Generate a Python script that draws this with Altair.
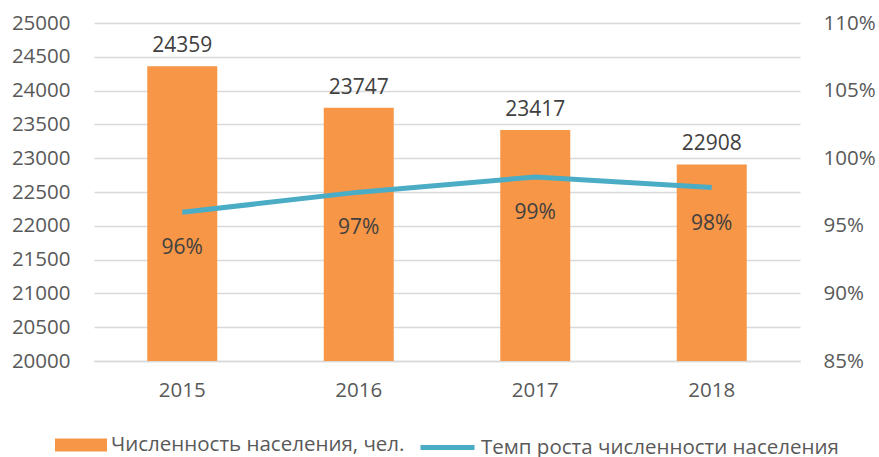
import altair as alt
import pandas as pd

years = ["2015", "2016", "2017", "2018"]
population = [24359, 23747, 23417, 22908]
growth = [0.960, 0.9749, 0.9861, 0.9783]
growth_labels = ["96%", "97%", "99%", "98%"]
series_bar = "Численность населения, чел."
series_line = "Темп роста численности населения"

left_ticks = list(range(20000, 25001, 500))
right_ticks = [0.85, 0.90, 0.95, 1.00, 1.05, 1.10]

df = pd.DataFrame({"year": years, "pop": population, "growth": growth, "glabel": growth_labels,
                   "s1": [series_bar] * 4, "s2": [series_line] * 4})

FONT = "Open Sans"
AXIS_COLOR = "#595959"
LABEL_COLOR = "#404040"
BAR_COLOR = "#F79646"
LINE_COLOR = "#4BACC6"
FS = 20.5
FS_DATA = 21

x = alt.X(
    "year:N", title=None,
    scale=alt.Scale(paddingInner=0, paddingOuter=0),
    axis=alt.Axis(labelAngle=0, labelFontSize=FS, labelFont=FONT, labelColor=AXIS_COLOR,
                  labelPadding=19, ticks=False, domain=True, domainColor="#d9d9d9", domainWidth=1.5, grid=False),
)

base = alt.Chart(df)

y_left = alt.Y(
    "pop:Q", title=None,
    scale=alt.Scale(domain=[20000, 25000], nice=False, zero=False),
    axis=alt.Axis(values=left_ticks, format="d", labelFontSize=FS, labelFont=FONT, labelColor=AXIS_COLOR,
                  labelPadding=24, labelOverlap=False, ticks=False, domain=False, grid=True,
                  gridColor="#d9d9d9", gridWidth=1.3),
)

bars = base.mark_bar(size=70, clip=True).encode(
    x=x,
    y=y_left,
    y2=alt.datum(20000),
    fill=alt.Fill(
        "s1:N",
        scale=alt.Scale(range=[BAR_COLOR]),
        legend=alt.Legend(
            title=None, orient="none", legendX=-39, legendY=396, padding=0,
            symbolType="M-1,-0.25L1,-0.25L1,0.25L-1,0.25Z", symbolSize=2704, symbolStrokeWidth=0,
            labelFontSize=FS, labelFont=FONT, labelColor=AXIS_COLOR, labelOffset=4, labelLimit=500,
        ),
    ),
)

bar_text = base.mark_text(baseline="alphabetic", dy=-14, fontSize=FS_DATA, font=FONT, color=LABEL_COLOR).encode(
    x=x, y=y_left, text=alt.Text("pop:Q", format="d")
)

y_right = alt.Y(
    "growth:Q", title=None,
    scale=alt.Scale(domain=[0.85, 1.10], nice=False, zero=False),
    axis=alt.Axis(orient="right", values=right_ticks, format=".0%", labelFontSize=FS, labelFont=FONT,
                  labelColor=AXIS_COLOR, labelPadding=23, labelAlign="left", labelOverlap=False,
                  ticks=False, domain=False, grid=False),
)

line = base.mark_line(strokeWidth=5).encode(
    x=x,
    y=y_right,
    stroke=alt.Stroke(
        "s2:N",
        scale=alt.Scale(range=[LINE_COLOR]),
        legend=alt.Legend(
            title=None, orient="none", legendX=324, legendY=395, padding=0,
            symbolType="stroke", symbolSize=2916, symbolStrokeWidth=5,
            labelFontSize=FS, labelFont=FONT, labelColor=AXIS_COLOR, labelOffset=4, labelLimit=500,
        ),
    ),
)

line_text = base.mark_text(baseline="middle", dy=36, fontSize=FS_DATA, font=FONT, color=LABEL_COLOR).encode(
    x=x, y=y_right, text="glabel:N"
)

chart = alt.layer(
    alt.layer(bars, bar_text),
    alt.layer(line, line_text),
).resolve_scale(y="independent").properties(
    width=706, height=338,
    autosize=alt.AutoSizeParams(type="none"),
    padding={"left": 94, "top": 23, "right": 79, "bottom": 96},
    view=alt.ViewBackground(stroke="transparent", strokeWidth=0),
).configure(font=FONT).configure_view(
    strokeWidth=0, stroke="transparent"
).configure_axisY(domain=False, ticks=False).configure_axisX(grid=False)

chart.save("out.html", embed_options={"renderer": "svg", "actions": False})
